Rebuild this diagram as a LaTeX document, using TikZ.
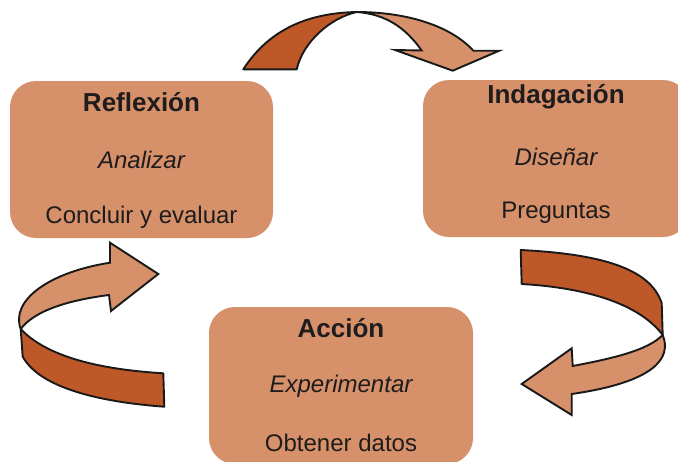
\documentclass[tikz,border=0pt]{standalone}
\usepackage{fontspec}
\setmainfont{Liberation Sans}
\definecolor{boxfill}{RGB}{214,144,106}
\definecolor{darkarr}{RGB}{190,88,40}
\definecolor{txt}{RGB}{30,28,28}
\tikzset{
  stagebox/.style={fill=boxfill, rounded corners=26pt, minimum width=#1, minimum height=157pt, inner sep=0pt},
  ttl/.style={text=txt, font=\fontsize{26}{28}\selectfont\bfseries, inner sep=0pt},
  sub/.style={text=txt, font=\fontsize{24}{28}\selectfont\itshape, inner sep=0pt},
  txtl/.style={text=txt, font=\fontsize{24}{28}\selectfont, inner sep=0pt},
  darkpart/.style={fill=darkarr, draw=black!90, line width=1.9pt, line join=round},
  lightpart/.style={fill=boxfill, draw=black!90, line width=1.9pt, line join=miter},
}
\begin{document}
\begin{tikzpicture}[x=1pt,y=-1pt]
\useasboundingbox (0,0) rectangle (678,461);
\clip (0,0) rectangle (678,461);
% boxes
\node[stagebox=263pt] (refl) at (141.5,159.5) {};
\node[stagebox=266pt] (inda) at (556,158.5) {};
\node[stagebox=264pt] (acc) at (341,385.5) {};
% texts
\node[ttl]  (reflT) at (141.5,102) {Reflexión};
\node[sub]  (reflS) at (141.5,160) {Analizar};
\node[txtl] (reflL) at (141.5,217) {Concluir y evaluar};
\node[ttl]  (indaT) at (556,97) {Indagación};
\node[sub]  (indaS) at (556,157) {Diseñar};
\node[txtl] (indaL) at (556,213) {Preguntas};
\node[ttl]  (accT) at (341,328) {Acción};
\node[sub]  (accS) at (341,386) {Experimentar};
\node[txtl] (accL) at (341,443) {Obtener datos};
% top arrow
\draw[darkpart] (243.3,69.3) .. controls (270,28) and (310,13) .. (356.7,12)
   .. controls (330,18) and (303,42) .. (296.7,69.3) -- cycle;
\draw[lightpart] (356.7,12) .. controls (405,12) and (450,25) .. (473.3,50.7)
   -- (499.3,50.7) -- (452.7,70.7) -- (395,50) -- (421.7,50.5)
   .. controls (405,27) and (385,14) .. (356.7,12) -- cycle;
% right arrow
\draw[darkpart] (520.7,250) .. controls (600,254) and (650,268) .. (661.7,303)
   -- (662.7,335) .. controls (640,305) and (590,288) .. (521.7,284) -- cycle;
\draw[lightpart] (662.7,335) .. controls (672,358) and (655,382) .. (571.7,394)
   -- (571.7,415) -- (521.7,384) -- (571.7,348.3) -- (572.7,366)
   .. controls (615,358) and (648,350) .. (662.7,335) -- cycle;
% left arrow
\draw[darkpart] (20.7,329) -- (22.7,356.7) .. controls (40,388) and (100,402) .. (164.3,406.7)
   -- (163.3,373.3) .. controls (110,370) and (50,360) .. (20.7,329) -- cycle;
\draw[lightpart] (20.7,329) .. controls (10,300) and (50,272) .. (110,262.7)
   -- (110,242.7) -- (158.3,274) -- (111,311) -- (109,295)
   .. controls (70,300) and (35,310) .. (20.7,329) -- cycle;
\end{tikzpicture}
\end{document}
